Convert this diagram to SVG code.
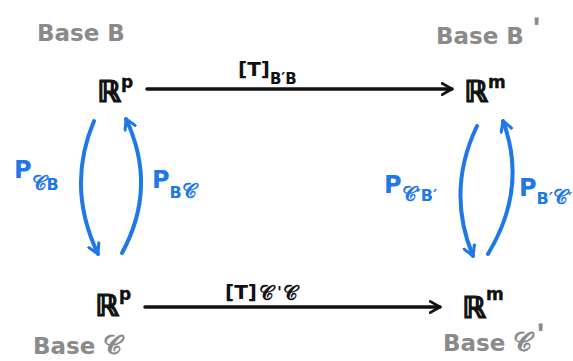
<svg xmlns="http://www.w3.org/2000/svg" width="573" height="361" viewBox="0 0 573 361">
<style>
.base{font-family:"DejaVu Sans","Liberation Sans",sans-serif;font-size:23px;fill:#8a8a8a;font-weight:bold}
.pr{font-family:"Liberation Sans",sans-serif;font-size:30px;fill:#8a8a8a;font-weight:bold}
.sp{font-family:"DejaVu Sans","Liberation Sans",sans-serif;font-weight:bold;fill:#111;stroke:#111;stroke-width:1.2}
.big{font-size:30px}
.sup{font-size:17px;stroke-width:0.4}
.lbl{font-family:"DejaVu Sans","Liberation Sans",sans-serif;font-weight:bold;fill:#111;font-size:20px}
.sub{font-size:15px}
.c{font-size:20px}
.pl{font-family:"DejaVu Sans","Liberation Sans",sans-serif;font-weight:bold;fill:#1f78e6;font-size:24px}
.psub{font-size:16px}
.k{stroke:#111;stroke-width:3.5;fill:none;stroke-linecap:round}
.b{stroke:#1f78e6;stroke-width:4;fill:none;stroke-linecap:round}
</style>
<defs>
<marker id="ak" viewBox="0 0 10 10" refX="8" refY="5" markerWidth="4" markerHeight="4" orient="auto" markerUnits="strokeWidth">
<path d="M1,1 L8,5 L1,9" fill="none" stroke="#111" stroke-width="2" stroke-linecap="round" stroke-linejoin="round"/>
</marker>
<marker id="ab" viewBox="0 0 10 10" refX="8" refY="5" markerWidth="3.5" markerHeight="3.5" orient="auto" markerUnits="strokeWidth">
<path d="M1,1 L8,5 L1,9" fill="none" stroke="#1f78e6" stroke-width="2.2" stroke-linecap="round" stroke-linejoin="round"/>
</marker>
</defs>
<rect width="573" height="361" fill="#fff"/>
<g id="connectors">
<line class="k" x1="147" y1="89" x2="452" y2="89" marker-end="url(#ak)"/>
<line class="k" x1="145" y1="307" x2="440" y2="307" marker-end="url(#ak)"/>
<path class="b" d="M94,121 Q66,187 98,254" marker-end="url(#ab)"/>
<path class="b" d="M122,253 Q158,187 126,119" marker-end="url(#ab)"/>
<path class="b" d="M477,126 Q446,191 473,256" marker-end="url(#ab)"/>
<path class="b" d="M488,254 Q528,188 503,121" marker-end="url(#ab)"/>
<text class="lbl" x="238" y="76">[T]<tspan class="sub" dy="8">B′B</tspan></text>
<text class="lbl" x="225" y="299">[T]<tspan class="c" dx="2" dy="1">𝒞</tspan><tspan font-size="16" dx="3" dy="-2">'</tspan><tspan class="c" dx="1" dy="2">𝒞</tspan></text>
<text class="pl" x="14" y="178">P<tspan class="c" dy="12">𝒞</tspan><tspan class="psub">B</tspan></text>
<text class="pl" x="152" y="188">P<tspan class="psub" dy="10">B</tspan><tspan class="c">𝒞</tspan></text>
<text class="pl" x="384" y="193">P<tspan class="c" dy="8">𝒞</tspan><tspan class="psub">′B′</tspan></text>
<text class="pl" x="519" y="196">P<tspan class="psub" dy="8">B′</tspan><tspan class="c">𝒞</tspan><tspan class="psub">′</tspan></text>
</g>
<g id="baseB"><text class="base" x="37" y="41">Base B</text></g>
<g id="baseB2"><text class="base" x="436" y="44">Base B</text><text class="pr" x="533" y="38">ʹ</text></g>
<g id="baseC"><text class="base" x="33" y="354">Base <tspan font-size="26">𝒞</tspan></text></g>
<g id="baseC2"><text class="base" x="443" y="351">Base <tspan font-size="26">𝒞</tspan></text><text class="pr" x="537" y="344">ʹ</text></g>
<g id="Rp_top"><text class="sp big" x="97" y="102">ℝ<tspan class="sup" dy="-14">p</tspan></text></g>
<g id="Rm_top"><text class="sp big" x="464" y="102">ℝ<tspan class="sup" dy="-14">m</tspan></text></g>
<g id="Rp_bot"><text class="sp big" x="95" y="316">ℝ<tspan class="sup" dy="-16">p</tspan></text></g>
<g id="Rm_bot"><text class="sp big" x="462" y="318">ℝ<tspan class="sup" dy="-18">m</tspan></text></g>
</svg>
